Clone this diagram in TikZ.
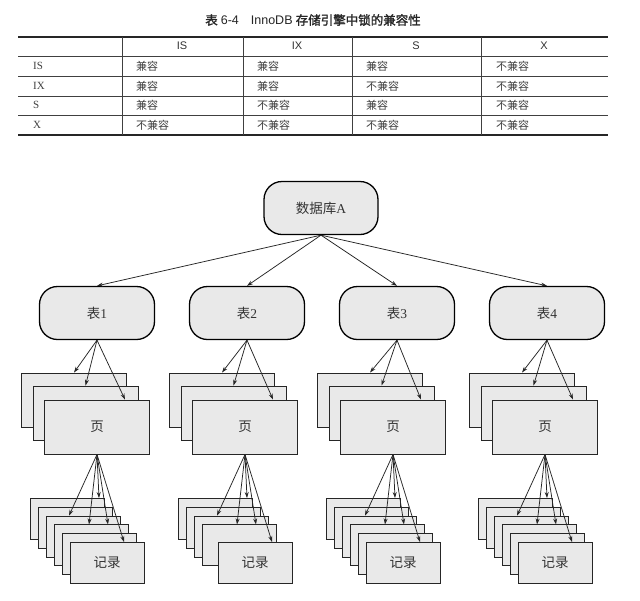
\documentclass[tikz,border=0pt]{standalone}
\usepackage{fontspec}
\setmainfont{Liberation Serif}
\newfontfamily\cjk{Noto Sans CJK SC}
\newfontfamily\cjkb[FakeBold=1.5]{Noto Sans CJK SC}
\newfontfamily\hdr{Liberation Sans}
\usetikzlibrary{arrows.meta,calc}
\definecolor{boxgray}{HTML}{E9E9E9}
\definecolor{txtgray}{HTML}{333333}
\tikzset{
  rbox/.style={draw=black, fill=boxgray, line width=1.3pt, rounded corners=18pt,
    minimum width=115pt, minimum height=53pt, inner sep=0pt, text=txtgray,
    font=\fontsize{13.5}{15}\selectfont},
  pagebox/.style={draw=black!85, fill=boxgray, line width=0.9pt,
    minimum width=105pt, minimum height=54pt, inner sep=0pt, text=txtgray,
    font=\fontsize{13.5}{15}\selectfont},
  recbox/.style={draw=black!85, fill=boxgray, line width=0.9pt,
    minimum width=74pt, minimum height=41pt, inner sep=0pt, text=txtgray,
    font=\fontsize{13.5}{15}\selectfont},
  arr/.style={-{Stealth[length=6pt,width=4pt]}, line width=0.75pt, draw=black!85},
  cell/.style={anchor=west, inner sep=0pt, text=black!75, font=\fontsize{11}{13}\selectfont},
  hcell/.style={inner sep=0pt, text=black!80, font=\hdr\fontsize{11}{13}\selectfont},
  thick rule/.style={line width=1.4pt, draw=black!85},
  thin rule/.style={line width=0.7pt, draw=black!75}
}
\begin{document}
\begin{tikzpicture}[x=1pt, y=-1pt]
\fill[white] (0,0) rectangle (640,600);
\useasboundingbox (0,0) rectangle (640,600);

% title
\node[inner sep=0pt, text=black!85, font=\fontsize{12.5}{14}\selectfont] (title) at (313,20)
  {{\cjkb 表} {\hdr 6-4}\hspace{12pt}{\hdr InnoDB} {\cjkb 存储引擎中锁的兼容性}};

% table rules
\draw[thick rule] (18,37) -- (608,37);
\draw[thick rule] (18,135) -- (608,135);
\foreach \yy in {56,76,96,115} \draw[thin rule] (18,\yy) -- (608,\yy);
\foreach \xx in {122,243,352,481} \draw[thin rule] (\xx,37) -- (\xx,135);

% header
\node[hcell] (h1) at (182,46) {IS};
\node[hcell] (h2) at (297,46) {IX};
\node[hcell] (h3) at (416,46) {S};
\node[hcell] (h4) at (544,46) {X};

% rows
\foreach \r/\yy/\lab/\a/\b/\c/\d in {
  1/66/IS/兼容/兼容/兼容/不兼容,
  2/86/IX/兼容/兼容/不兼容/不兼容,
  3/105/S/兼容/不兼容/兼容/不兼容,
  4/125/X/不兼容/不兼容/不兼容/不兼容} {
  \node[cell] (l\r) at (33,\yy) {\lab};
  \node[cell] (c\r-1) at (136,\yy) {\cjk \a};
  \node[cell] (c\r-2) at (257,\yy) {\cjk \b};
  \node[cell] (c\r-3) at (366,\yy) {\cjk \c};
  \node[cell] (c\r-4) at (496,\yy) {\cjk \d};
}

% database
\node[rbox, minimum width=114pt] (db) at (321,208) {{\cjk 数据库}A};

% tables
\foreach \k/\tx in {1/97,2/247,3/397,4/547} {
  \node[rbox] (t\k) at (\tx,313) {{\cjk 表}\k};
  \draw[arr] (db.south) -- (t\k.north);
}

% page and record stacks
\foreach \k/\cx/\recs in {1/97/{0,1,2,3,4}, 2/245/{0,1,2,3}, 3/393/{0,1,2,3,4}, 4/545/{0,1,2,3,4}} {
  \node[pagebox] (pb\k) at (\cx-23,400) {};
  \node[pagebox] (pm\k) at (\cx-11.5,413) {};
  \node[pagebox] (pf\k) at (\cx,427) {\cjk 页};
  \draw[arr] (t\k.south) -- (pb\k.north);
  \draw[arr] (t\k.south) -- (pm\k.north);
  \draw[arr] (t\k.south) -- ($(pf\k.north)+(28,0)$);
  \foreach \i in \recs {
    \node[recbox] (r\k-\i) at (\cx-30+8*\i,519+8.8*\i) {};
  }
  \node[recbox] (r\k-5) at (\cx+10,563) {\cjk 记录};
  \draw[arr] (pf\k.south) -- ($(r\k-2.north)+(-14,0)$);
  \draw[arr] (pf\k.south) -- ($(r\k-3.north)+(-2,0)$);
  \draw[arr] (pf\k.south) -- ($(r\k-0.north)+(32,0)$);
  \draw[arr] (pf\k.south) -- ($(r\k-3.north)+(17,0)$);
  \draw[arr] (pf\k.south) -- ($(r\k-5.north)+(17,0)$);
}
\end{tikzpicture}
\end{document}
